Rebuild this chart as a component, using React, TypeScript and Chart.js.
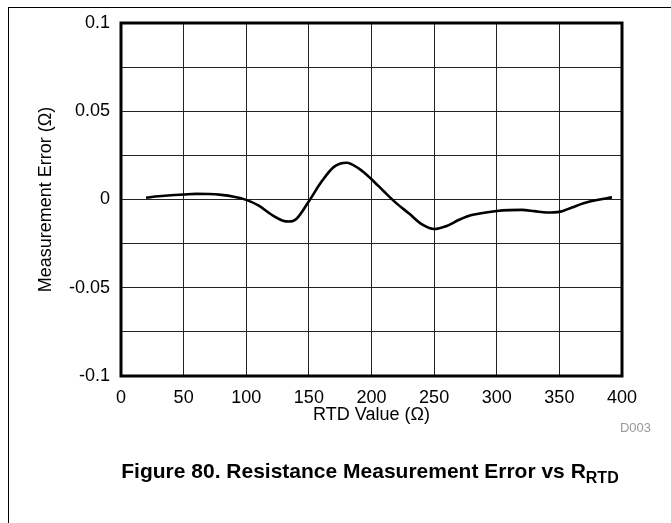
import React, { useEffect, useRef } from "react";
import { Chart, registerables } from "chart.js";

Chart.register(...registerables);

// RTD value (Ω)
const rtdValues = [
  20, 30, 40, 50, 60, 70, 80, 90, 100, 110, 120, 130, 134, 140, 150, 160, 170,
  180, 190, 200, 210, 220, 230, 240, 250, 260, 270, 280, 290, 300, 310, 320,
  330, 340, 350, 360, 370, 380, 392,
];
// Measurement error (Ω)
const errorValues = [
  0.001, 0.0018, 0.0024, 0.0028, 0.0032, 0.0031, 0.0026, 0.0016, -0.0002,
  -0.0035, -0.0085, -0.0122, -0.0125, -0.011, -0.001, 0.01, 0.0185, 0.0208,
  0.0175, 0.0115, 0.0045, -0.0022, -0.008, -0.014, -0.0167, -0.015, -0.0115,
  -0.0088, -0.0075, -0.0065, -0.006, -0.0059, -0.0066, -0.0074, -0.007,
  -0.0045, -0.002, -0.0003, 0.0012,
];

const xTickValues = [0, 50, 100, 150, 200, 250, 300, 350, 400];
const yGridValues = [-0.1, -0.075, -0.05, -0.025, 0, 0.025, 0.05, 0.075, 0.1];
const yTickLabels = ["-0.1", "", "-0.05", "", "0", "", "0.05", "", "0.1"];

const FONT = '"Liberation Sans", Arial, Helvetica, sans-serif';
const W = 671;
const H = 523;

export default function App() {
  const ref = useRef<HTMLCanvasElement>(null);

  useEffect(() => {
    if (!ref.current) return;
    const borderPlugin = {
      id: "plotBorder",
      afterDatasetsDraw(chart: any) {
        const { ctx, chartArea: a } = chart;
        ctx.save();
        ctx.strokeStyle = "#000";
        ctx.lineWidth = 3;
        ctx.strokeRect(a.left, a.top, a.right - a.left, a.bottom - a.top);
        ctx.restore();
      },
    };
    const chart = new Chart(ref.current, {
      type: "line",
      data: {
        datasets: [
          {
            data: rtdValues.map((x, i) => ({ x, y: errorValues[i] })),
            borderColor: "#000",
            borderWidth: 2.6,
            pointRadius: 0,
            cubicInterpolationMode: "monotone",
            fill: false,
          },
        ],
      },
      options: {
        responsive: false,
        animation: false,
        layout: { padding: { left: 0, top: 23, right: 49, bottom: 0 } },
        plugins: {
          legend: { display: false },
          tooltip: { enabled: false },
        },
        scales: {
          x: {
            type: "linear",
            min: 0,
            max: 400,
            afterBuildTicks: (axis: any) => {
              axis.ticks = xTickValues.map((v) => ({ value: v }));
            },
            afterFit: (axis: any) => {
              axis.height = 147;
            },
            grid: { color: "#222", lineWidth: 1, drawTicks: false },
            border: { display: false },
            ticks: {
              padding: 11,
              color: "#000",
              maxRotation: 0,
              autoSkip: false,
              font: { family: FONT, size: 18 },
              callback: (v: any) => String(v),
            },
            title: {
              display: true,
              text: "RTD Value (Ω)",
              color: "#000",
              font: { family: FONT, size: 18 },
              padding: { top: 0, bottom: 97 },
            },
          },
          y: {
            type: "linear",
            min: -0.1,
            max: 0.1,
            afterBuildTicks: (axis: any) => {
              axis.ticks = yGridValues.map((v) => ({ value: v }));
            },
            afterFit: (axis: any) => {
              axis.width = 121;
            },
            grid: { color: "#222", lineWidth: 1, drawTicks: false },
            border: { display: false },
            ticks: {
              padding: 11,
              color: "#000",
              autoSkip: false,
              font: { family: FONT, size: 18 },
              callback: (_v: any, i: number) => yTickLabels[i],
            },
            title: {
              display: true,
              text: "Measurement Error (Ω)",
              color: "#000",
              font: { family: FONT, size: 18 },
              padding: { top: 35, bottom: 0 },
            },
          },
        },
      },
      plugins: [borderPlugin],
    } as any);
    return () => chart.destroy();
  }, []);

  return (
    <div
      style={{
        position: "absolute",
        left: 0,
        top: 0,
        width: W,
        height: H,
        background: "#fff",
        overflow: "hidden",
      }}
    >
      <canvas
        ref={ref}
        width={W}
        height={H}
        style={{ display: "block", position: "absolute", left: 0, top: 0 }}
      />
      <div
        style={{
          position: "absolute",
          left: 8,
          top: 7,
          width: W - 8,
          height: 1,
          background: "#000",
        }}
      />
      <div
        style={{
          position: "absolute",
          left: 8,
          top: 7,
          width: 1,
          height: H - 7,
          background: "#000",
        }}
      />
      <div
        style={{
          position: "absolute",
          right: W - 651,
          top: 420,
          fontFamily: FONT,
          fontSize: 13,
          color: "#999",
          lineHeight: "16px",
        }}
      >
        D003
      </div>
      <div
        style={{
          position: "absolute",
          left: 0,
          width: 740,
          top: 458,
          textAlign: "center",
          fontFamily: FONT,
          fontSize: 21,
          fontWeight: "bold",
          color: "#000",
          lineHeight: "26px",
          whiteSpace: "nowrap",
        }}
      >
        Figure 80. Resistance Measurement Error vs R
        <sub style={{ fontSize: 16, verticalAlign: "-5px", lineHeight: 0 }}>RTD</sub>
      </div>
    </div>
  );
}
